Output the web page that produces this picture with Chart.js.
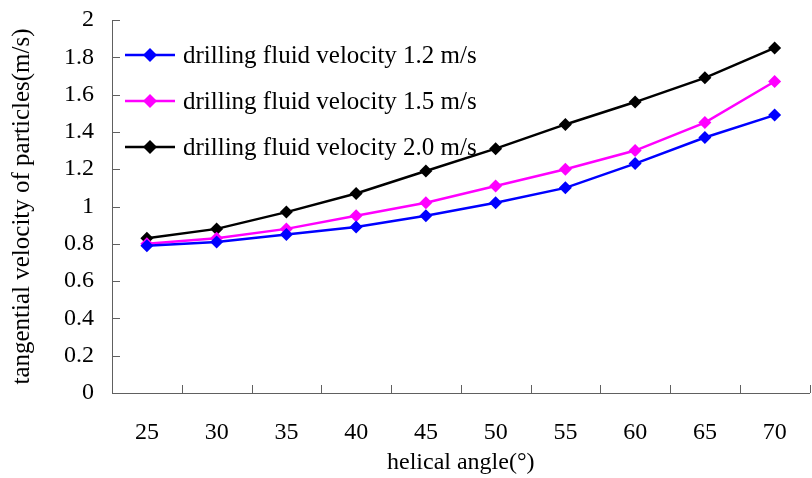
<!DOCTYPE html>
<html>
<head>
<meta charset="utf-8">
<script src="https://cdn.jsdelivr.net/npm/chart.js@4"></script>
<style>
  html, body { margin: 0; padding: 0; background: #fff; overflow: hidden; }
  #wrap { width: 816px; height: 478px; }
</style>
</head>
<body>
<div id="wrap"><canvas id="velocityChart"></canvas></div>
<script>
const angles = ['25', '30', '35', '40', '45', '50', '55', '60', '65', '70'];
const vel12 = [0.79, 0.81, 0.85, 0.89, 0.95, 1.02, 1.10, 1.23, 1.37, 1.49];
const vel15 = [0.80, 0.83, 0.88, 0.95, 1.02, 1.11, 1.20, 1.30, 1.45, 1.67];
const vel20 = [0.83, 0.88, 0.97, 1.07, 1.19, 1.31, 1.44, 1.56, 1.69, 1.85];
const seriesNames = [
    'drilling fluid velocity 1.2 m/s',
    'drilling fluid velocity 1.5 m/s',
    'drilling fluid velocity 2.0 m/s'
];

const FONT = "'Liberation Serif', 'Times New Roman', serif";
const AXIS = '#606060';

function makeSet(label, data, color) {
    return {
        label: label,
        data: data,
        borderColor: color,
        backgroundColor: color,
        borderWidth: 2.5,
        pointStyle: 'rectRot',
        pointRadius: 6.5,
        pointHoverRadius: 6.5,
        pointBorderWidth: 0,
        tension: 0,
        fill: false
    };
}

// inside tick marks, like the original
const innerTicks = {
    id: 'innerTicks',
    afterDraw(chart) {
        const ctx = chart.ctx;
        const x = chart.scales.x;
        const y = chart.scales.y;
        ctx.save();
        ctx.strokeStyle = AXIS;
        ctx.lineWidth = 1;
        ctx.beginPath();
        y.ticks.forEach(t => {
            const py = Math.round(y.getPixelForValue(t.value)) + 0.5;
            ctx.moveTo(y.right, py);
            ctx.lineTo(y.right + 8, py);
        });
        for (let i = 0; i <= angles.length; i++) {
            const px = Math.round(x.getPixelForValue(i - 0.5)) + 0.5;
            ctx.moveTo(px, x.top);
            ctx.lineTo(px, x.top - 8);
        }
        ctx.stroke();
        ctx.restore();
    }
};

// legend drawn inside the plot, top-left
const innerLegend = {
    id: 'innerLegend',
    afterDraw(chart) {
        const ctx = chart.ctx;
        const area = chart.chartArea;
        ctx.save();
        ctx.font = '25px ' + FONT;
        ctx.textBaseline = 'middle';
        ctx.textAlign = 'left';
        chart.data.datasets.forEach((ds, i) => {
            const cy = area.top + 35 + i * 46;
            const x0 = area.left + 13;
            ctx.strokeStyle = ds.borderColor;
            ctx.lineWidth = 2.5;
            ctx.beginPath();
            ctx.moveTo(x0, cy);
            ctx.lineTo(x0 + 50, cy);
            ctx.stroke();
            ctx.fillStyle = ds.borderColor;
            ctx.beginPath();
            ctx.moveTo(x0 + 25, cy - 7);
            ctx.lineTo(x0 + 32, cy);
            ctx.lineTo(x0 + 25, cy + 7);
            ctx.lineTo(x0 + 18, cy);
            ctx.closePath();
            ctx.fill();
            ctx.fillStyle = '#000';
            ctx.fillText(ds.label, x0 + 58, cy + 1);
        });
        ctx.restore();
    }
};

const ctx = document.getElementById('velocityChart').getContext('2d');
new Chart(ctx, {
    type: 'line',
    data: {
        labels: angles,
        datasets: [
            makeSet(seriesNames[0], vel12, '#0000ff'),
            makeSet(seriesNames[1], vel15, '#ff00ff'),
            makeSet(seriesNames[2], vel20, '#000000')
        ]
    },
    options: {
        responsive: true,
        maintainAspectRatio: false,
        animation: false,
        layout: { padding: { top: 20, right: 0, left: 0, bottom: 0 } },
        plugins: {
            legend: { display: false },
            tooltip: { enabled: false }
        },
        scales: {
            x: {
                offset: true,
                grid: { display: true, drawOnChartArea: false, drawTicks: false, offset: true },
                border: { display: true, color: AXIS, width: 1 },
                ticks: { color: '#000', padding: 25, font: { family: FONT, size: 24 } },
                title: {
                    display: true,
                    text: 'helical angle(°)',
                    color: '#000',
                    font: { family: FONT, size: 24 },
                    padding: { top: 4, bottom: 1 }
                },
                afterFit(scale) { scale.height = 85; }
            },
            y: {
                min: 0,
                max: 2,
                ticks: {
                    stepSize: 0.2,
                    color: '#000',
                    padding: 18,
                    font: { family: FONT, size: 24 },
                    callback: v => String(Math.round(v * 10) / 10)
                },
                grid: { display: true, drawOnChartArea: false, drawTicks: false },
                border: { display: true, color: AXIS, width: 1 },
                title: {
                    display: true,
                    text: 'tangential velocity of particles(m/s)',
                    color: '#000',
                    font: { family: FONT, size: 25 },
                    padding: { top: 7, bottom: 0 }
                },
                afterFit(scale) {
                    scale.width = 112;
                    scale.paddingTop = 0;
                    scale.paddingBottom = 0;
                }
            }
        }
    },
    plugins: [innerTicks, innerLegend]
});
</script>
</body>
</html>
